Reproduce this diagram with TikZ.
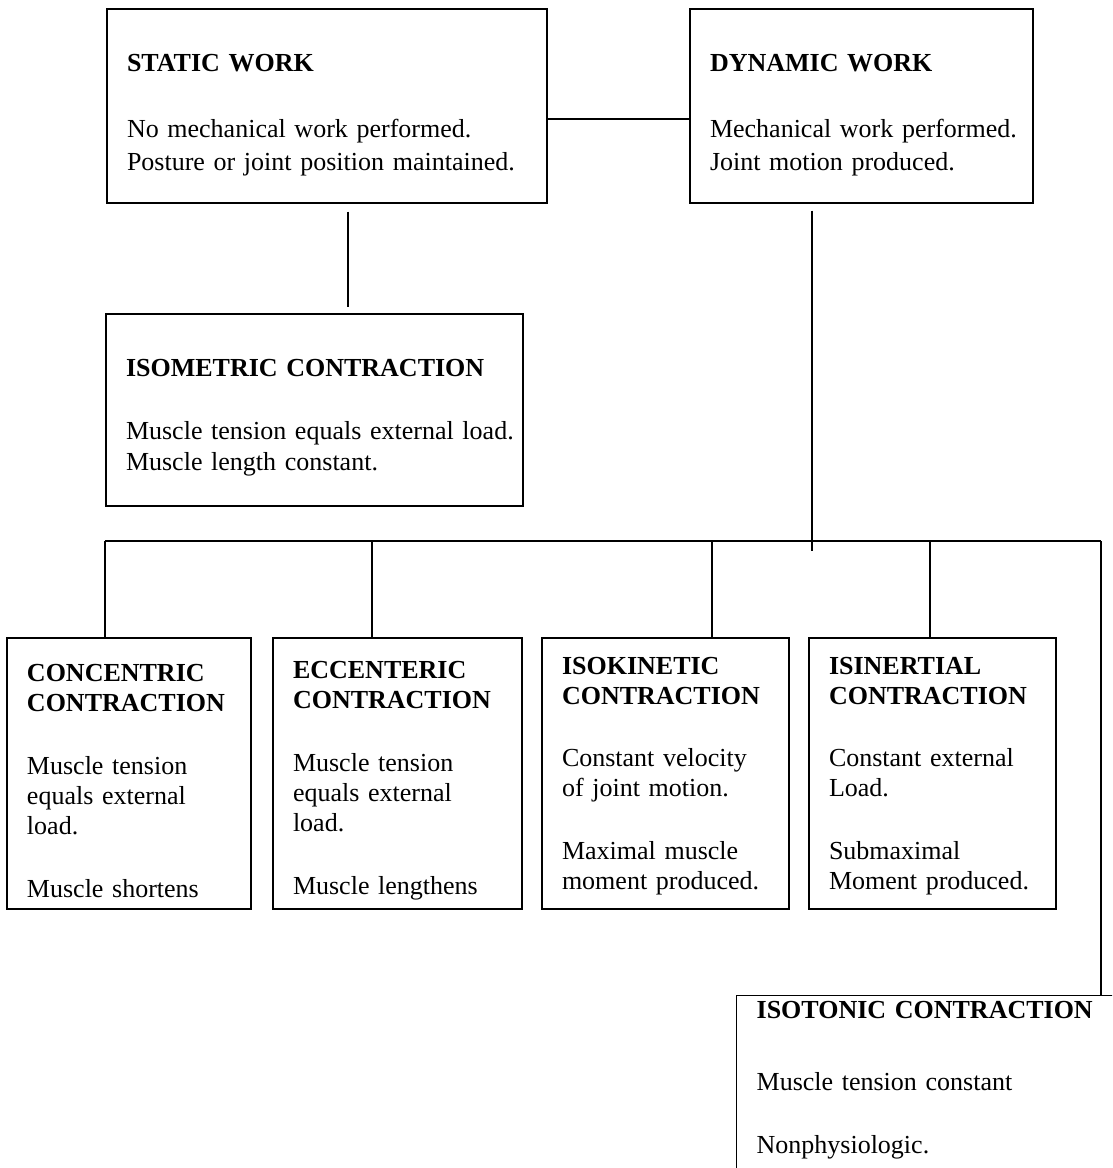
\documentclass[tikz,border=0pt]{standalone}
\usepackage{fontspec}
\setmainfont{Liberation Serif}
\usepackage{tikz}

\begin{document}
\begin{tikzpicture}[x=1pt,y=-1pt,line width=1.3pt,
	box/.style={draw,rectangle,inner xsep=0pt,inner ysep=6pt,align=left,
		font=\fontsize{26}{31}\selectfont,execute at begin node={\leftskip=20pt}},
	topbox/.style={box,minimum height=194pt,text height=36pt,font=\fontsize{26}{33}\selectfont},
	lowbox/.style={box,minimum height=271pt,font=\fontsize{26}{30}\selectfont}]
	\useasboundingbox (0,0) rectangle (1112,1168);
	\clip (0,0) rectangle (1112,1168);
			\node[topbox,text width=440pt] (static)  at (327,106)   {\textbf{STATIC WORK}\\[33pt]No mechanical work performed.\\Posture or joint position maintained.};
			\node[topbox,text width=343pt] (dynamic) at (861.5,106) {\textbf{DYNAMIC WORK}\\[33pt]Mechanical work performed.\\Joint motion produced.};
			\node[box,text width=417pt,minimum height=192pt,text height=32pt] (isometric) at (314.5,410) {\textbf{ISOMETRIC CONTRACTION}\\[32pt]Muscle tension equals external load.\\Muscle length constant.};
			\node[lowbox,text width=244pt,text height=32pt] (concentric) at (129,773.5)   {\textbf{CONCENTRIC}\\\textbf{CONTRACTION}\\[33pt]Muscle tension\\equals external\\load.\\[33pt]Muscle shortens};
			\node[lowbox,text width=249pt,text height=32pt] (eccentric)  at (397.5,773.5) {\textbf{ECCENTERIC}\\\textbf{CONTRACTION}\\[33pt]Muscle tension\\equals external\\load.\\[33pt]Muscle lengthens};
			\node[lowbox,text width=247pt,text height=22pt] (isokinetic) at (665.5,773.5) {\textbf{ISOKINETIC}\\\textbf{CONTRACTION}\\[32pt]Constant velocity\\of joint motion.\\[33pt]Maximal muscle\\moment produced.};
			\node[lowbox,text width=247pt,text height=22pt] (isinertial) at (932.5,773.5) {\textbf{ISINERTIAL}\\\textbf{CONTRACTION}\\[32pt]Constant external\\Load.\\[33pt]Submaximal\\Moment produced.};
			\node[box,text width=420pt,anchor=north west,text depth=175pt] (isotonic) at (736,995) {\textbf{ISOTONIC CONTRACTION}\\[41pt]Muscle tension constant\\[32pt]Nonphysiologic.};
			\coordinate (busL) at (105,541);
			\coordinate (busR) at (1101,541);
			\coordinate (dynfoot) at (812,551);
			\draw ([yshift=-13pt]static.east) -- ([yshift=-13pt]dynamic.west);
			\draw[shorten <=8pt,shorten >=6pt] ([xshift=21pt]static.south) -- ([xshift=21pt]static.south |- isometric.north);
			\draw[shorten <=7pt] (dynamic.south -| dynfoot) -- (dynfoot);
			\draw (busL) -- (busR);
			\draw (busL) -- (busL |- concentric.north);
			\draw ([xshift=-25.5pt]eccentric.north)  -- ([xshift=-25.5pt]eccentric.north |- busL);
			\draw ([xshift=46.5pt]isokinetic.north)  -- ([xshift=46.5pt]isokinetic.north |- busL);
			\draw ([xshift=-2.5pt]isinertial.north)  -- ([xshift=-2.5pt]isinertial.north |- busL);
			\draw (busR) -- (busR |- isotonic.north);
\end{tikzpicture}
\end{document}
